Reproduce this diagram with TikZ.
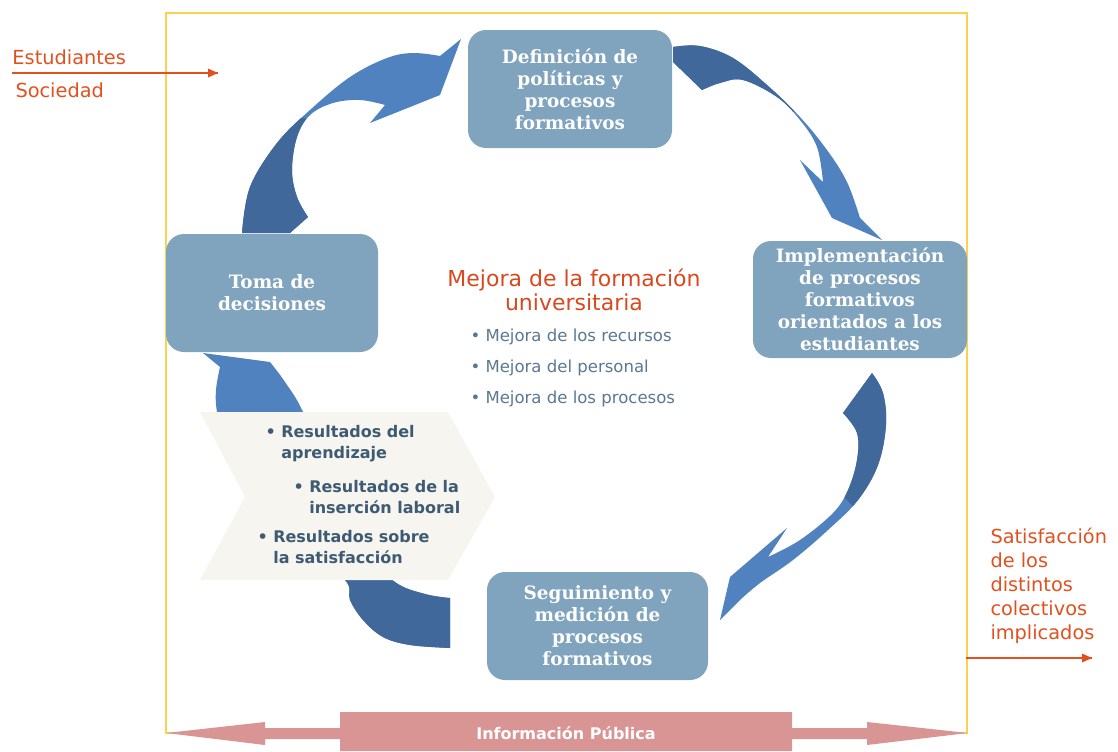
\documentclass[tikz,border=0pt]{standalone}
\usepackage{fontspec}
\setmainfont{DejaVu Sans}
\newfontfamily\serifbold{DejaVu Serif}

\definecolor{boxblue}{RGB}{129,164,190}
\definecolor{arrdark}{RGB}{65,104,154}
\definecolor{arrlight}{RGB}{79,130,190}
\definecolor{chevgray}{RGB}{246,245,240}
\definecolor{infopink}{RGB}{217,149,148}
\definecolor{labelorange}{RGB}{225,80,31}
\definecolor{titleorange}{RGB}{217,72,30}
\definecolor{bulletgray}{RGB}{90,120,146}
\definecolor{resultblue}{RGB}{62,91,115}
\definecolor{frameyellow}{RGB}{250,210,80}

\tikzset{every picture/.style={line width=0.75pt}}
\tikzset{
  procbox/.style={fill=boxblue, rounded corners=13.5pt, align=center, text=white, inner sep=0pt,
    font=\serifbold\bfseries\fontsize{13.8}{16.5}\selectfont},
  sidelabel/.style={anchor=west, text=labelorange, align=left, inner sep=0pt,
    font=\fontsize{14.5}{18}\selectfont},
  mejoraitem/.style={anchor=west, text=bulletgray, inner sep=0pt, font=\fontsize{12.4}{14}\selectfont},
  resultitem/.style={anchor=west, text=resultblue, align=left, inner sep=0pt,
    font=\bfseries\fontsize{12}{15.75}\selectfont},
  orangeline/.style={draw=labelorange, line width=1.1pt},
}
\newcommand{\resbullet}[2]{\textbullet~#1\\\phantom{\textbullet~}#2}

\begin{document}
\begin{tikzpicture}[x=0.75pt,y=0.75pt,yscale=-1,xscale=1]
	\useasboundingbox (0,0) rectangle (1118,751);

	%Shape: Rectangle [id:frame]
	\draw [frameyellow, line width=1pt] (166,13) rectangle (967,733);

	%Shape: Curved Arrow [id:toma-definicion]
	\path [save path=\arrowTD] plot [smooth, tension=0.6] coordinates {(242,233) (250,187) (277,143) (310,110) (350,77) (387,58) (413,53) (440,56)} -- (461,39) -- (440,95) -- (370,123) -- (385,105) -- plot [smooth, tension=0.6] coordinates {(385,105) (360,100) (333,103) (310,115) (297,137) (292,170) (297,197) (308,217)} -- (290,233) -- cycle;
	\fill [arrlight, use path=\arrowTD];
	\begin{scope}
		\clip (150,250) -- (150,128) -- (303,118) -- (340,128) -- (340,250) -- cycle;
		\fill [arrdark, use path=\arrowTD];
	\end{scope}

	%Shape: Curved Arrow [id:definicion-implementacion]
	\path [save path=\arrowDI] plot [smooth, tension=0.6] coordinates {(673,47) (700,46) (733,58) (767,85) (800,117) (827,150) (847,182) (860,218)} -- (882,240) -- (832,218) -- (800,160) -- (823,182) -- plot [smooth, tension=0.6] coordinates {(823,182) (817,147) (800,120) (777,97) (743,80) (720,83) (702,90)} -- (673,62) -- cycle;
	\fill [arrlight, use path=\arrowDI];
	\begin{scope}
		\clip (650,255) -- (875,30) -- (650,30) -- cycle;
		\fill [arrdark, use path=\arrowDI];
	\end{scope}

	%Shape: Curved Arrow [id:implementacion-seguimiento]
	\path [save path=\arrowIS] plot [smooth, tension=0.6] coordinates {(872,373) (883,393) (886,425) (878,465) (858,500) (828,530) (793,560) (760,583) (740,600)} -- (720,620) -- (730,577) -- (787,528) -- (768,557) -- plot [smooth, tension=0.6] coordinates {(768,557) (800,540) (833,513) (848,490) (857,460) (857,433) (843,413)} -- cycle;
	\fill [arrlight, use path=\arrowIS];
	\begin{scope}
		\clip (707,360) -- (900,553) -- (900,360) -- cycle;
		\fill [arrdark, use path=\arrowIS];
	\end{scope}

	%Shape: Curved Arrow [id:seguimiento-toma]
	\path [save path=\arrowST] plot [smooth, tension=0.6] coordinates {(450,648) (410,645) (383,637) (363,620) (350,600) (345,580) (300,545) (250,490) (225,445) (217,412) (216,390) (220,367)} -- (203,353) -- (270,362) -- plot [smooth, tension=0.6] coordinates {(270,362) (285,382) (303,412) (330,480) (365,550) (395,582) (425,594) (450,598)} -- cycle;
	\fill [arrlight, use path=\arrowST];
	\begin{scope}
		\clip (300,580) rectangle (460,660);
		\fill [arrdark, use path=\arrowST];
	\end{scope}

	%Shape: Chevron [id:resultados]
	\fill [chevgray] (200,412) -- (448,412) -- (495,497) -- (448,580) -- (200,580) -- (245,497) -- cycle;

	% Process boxes
	\node [procbox, minimum width=153pt, minimum height=88.5pt] (defin) at (570,89) {Definición de\\políticas y\\procesos\\formativos};
	\node [procbox, minimum width=160.5pt, minimum height=87.75pt] (implem) at (860,299.5) {Implementación\\de procesos\\formativos\\orientados a los\\estudiantes};
	\node [procbox, minimum width=159pt, minimum height=88.5pt] (toma) at (272,293) {Toma de\\decisiones};
	\node [procbox, minimum width=165.75pt, minimum height=81pt] (seguim) at (597.5,626) {Seguimiento y\\medición de\\procesos\\formativos};

	% Text Node
	\node [text=titleorange, align=center, inner sep=0pt, font=\fontsize{16.5}{18}\selectfont] (mejora) at (574,290) {Mejora de la formación\\universitaria};
	% Text Node
	\node [mejoraitem] (recursos) at (470,337) {\textbullet~Mejora de los recursos};
	\node [mejoraitem] (personal) at (470,368) {\textbullet~Mejora del personal};
	\node [mejoraitem] (procesos) at (470,399) {\textbullet~Mejora de los procesos};

	% Text Node
	\node [resultitem] (aprendizaje) at (265,444) {\resbullet{Resultados del}{aprendizaje}};
	\node [resultitem] (insercion) at (293,497) {\resbullet{Resultados de la}{inserción laboral}};
	\node [resultitem] (satisf) at (257,547.5) {\resbullet{Resultados sobre}{la satisfacción}};

	% Text Node
	\node [sidelabel] (estudiantes) at (12,57) {Estudiantes};
	\node [sidelabel] (sociedad) at (15,90) {Sociedad};
	\coordinate (entradaA) at (12,73);
	\coordinate (entradaB) at (218,73);
	\draw [orangeline] (entradaA) -- (entradaB);
	\fill [labelorange, shift={(entradaB)}] (0,0) -- (-10,-4.5) -- (-10,4.5) -- cycle;

	% Text Node
	\node [sidelabel] (colectivos) at (990,586) {Satisfacción\\de los\\distintos\\colectivos\\implicados};
	\coordinate (salidaA) at (966,658);
	\coordinate (salidaB) at (1092,658);
	\draw [orangeline] (salidaA) -- (salidaB);
	\fill [labelorange, shift={(salidaB)}] (0,0) -- (-10,-4.5) -- (-10,4.5) -- cycle;

	%Shape: Double Arrow [id:informacion]
	\fill [infopink] (166,733) -- (265,722) -- (265,728) -- (340,728) -- (340,712) -- (792,712) -- (792,728) -- (867,728) -- (867,722) -- (968,733) -- (867,745) -- (867,739) -- (792,739) -- (792,751) -- (340,751) -- (340,739) -- (265,739) -- (265,745) -- cycle;
	% Text Node
	\node [text=white, inner sep=0pt, font=\bfseries\fontsize{12}{13}\selectfont] (info) at (566,733) {Información Pública};

\end{tikzpicture}
\end{document}
